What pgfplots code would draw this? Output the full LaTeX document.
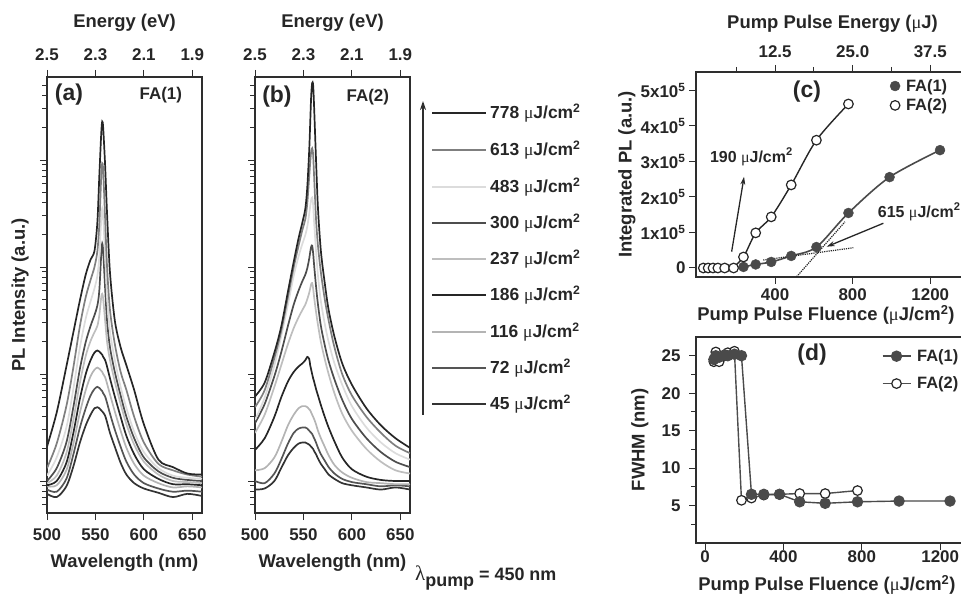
\documentclass[border=0pt]{standalone}
\usepackage{fontspec}
\setmainfont{Liberation Sans}
\newfontfamily\greekf{Liberation Serif}
\usepackage{pgfplots}
\usepackage{pgfplotstable}
\pgfplotsset{compat=1.18}
\usetikzlibrary{arrows.meta}

\newcommand\tickfont{\fontsize{17}{18}\selectfont\bfseries}
\newcommand\labfont{\fontsize{18.5}{20}\selectfont\bfseries}
\newcommand\um{{\greekf\mdseries μ}}

\definecolor{axc}{HTML}{2E2E2E}
\definecolor{txt}{HTML}{262626}
\definecolor{k1}{HTML}{262626}
\definecolor{g613}{HTML}{7F7F7F}
\definecolor{g483}{HTML}{DCDCDC}
\definecolor{g300}{HTML}{4D4D4D}
\definecolor{g237}{HTML}{BEBEBE}
\definecolor{g186}{HTML}{262626}
\definecolor{g116}{HTML}{B4B4B4}
\definecolor{g72}{HTML}{555555}
\definecolor{g45}{HTML}{333333}
\definecolor{fa1}{HTML}{4A4A4A}

% log10 of PL intensity, panel (a) FA(1)
\pgfplotstableread{
wl   a45   a72   a116  a186  a237  a300  a483  a613  a778
500 -0.12 -0.08 -0.05 -0.04 -0.02  0.00  0.05  0.12  0.32
510 -0.15 -0.10 -0.04  0.00  0.05  0.12  0.22  0.35  0.64
520 -0.05  0.02  0.10  0.17  0.26  0.36  0.50  0.70  1.07
527  0.13  0.24  0.34  0.44  0.56  0.68  0.85  1.05  1.38
534  0.36  0.50  0.64  0.77  0.92  1.05  1.25  1.45  1.69
540  0.52  0.68  0.85  1.00  1.17  1.30  1.52  1.72  1.93
545  0.62  0.80  0.98  1.13  1.31  1.45  1.68  1.88  2.07
549  0.68  0.86  1.04  1.20  1.39  1.55  1.80  2.00  2.15
552  0.69  0.88  1.06  1.22  1.45  1.64  1.92  2.15  2.42
554  0.68  0.87  1.05  1.21  1.55  1.78  2.10  2.40  2.85
556  0.66  0.85  1.03  1.19  1.72  2.12  2.45  2.85  3.25
557  0.65  0.84  1.02  1.18  1.75  2.22  2.55  2.97  3.36
558  0.64  0.82  1.00  1.16  1.70  2.15  2.47  2.90  3.30
560  0.61  0.79  0.97  1.13  1.50  1.80  2.10  2.45  2.95
562  0.55  0.73  0.91  1.07  1.30  1.50  1.72  2.00  2.50
565  0.45  0.63  0.81  0.96  1.13  1.25  1.40  1.60  1.95
570  0.32  0.48  0.65  0.79  0.93  1.02  1.13  1.28  1.50
576  0.17  0.32  0.47  0.60  0.72  0.80  0.88  1.02  1.25
582  0.06  0.18  0.31  0.42  0.53  0.60  0.68  0.85  1.08
590 -0.02  0.06  0.16  0.25  0.34  0.40  0.46  0.60  0.85
600 -0.07 -0.02  0.05  0.11  0.18  0.22  0.27  0.36  0.53
615 -0.11 -0.07 -0.02  0.02  0.06  0.09  0.12  0.16  0.20
630 -0.15 -0.10 -0.06 -0.03  0.00  0.03  0.05  0.10  0.13
645 -0.12 -0.09 -0.05 -0.03 -0.01  0.01  0.03  0.06  0.07
660 -0.14 -0.10 -0.06 -0.04 -0.02  0.00  0.02  0.04  0.06
}\tabA

% log10 of PL intensity, panel (b) FA(2)
\pgfplotstableread{
wl   b45   b72   b116  b186  b237  b300  b483  b613  b778
500 -0.08  0.00  0.10  0.29  0.45  0.54  0.57  0.69  0.79
510 -0.07 -0.02  0.12  0.40  0.62  0.72  0.78  0.85  0.92
520  0.00  0.07  0.22  0.60  0.88  0.98  1.08  1.15  1.20
527  0.12  0.20  0.36  0.78  1.08  1.20  1.35  1.40  1.44
534  0.24  0.35  0.52  0.93  1.28  1.45  1.65  1.72  1.77
540  0.31  0.45  0.62  1.02  1.43  1.65  1.92  2.00  2.05
545  0.35  0.49  0.68  1.07  1.53  1.78  2.10  2.20  2.27
549  0.36  0.50  0.70  1.10  1.60  1.87  2.22  2.35  2.42
552  0.36  0.50  0.70  1.13  1.65  1.93  2.30  2.45  2.55
554  0.35  0.49  0.69  1.16  1.70  1.99  2.38  2.60  2.75
556  0.34  0.47  0.67  1.14  1.76  2.08  2.50  2.85  3.10
557  0.33  0.46  0.66  1.08  1.80  2.14  2.57  2.98  3.35
558  0.32  0.45  0.64  1.04  1.84  2.19  2.63  3.08  3.60
559  0.31  0.44  0.62  1.00  1.85  2.20  2.65  3.11  3.72
560  0.30  0.42  0.60  0.96  1.80  2.13  2.58  3.05  3.70
561  0.28  0.40  0.58  0.93  1.72  2.02  2.42  2.85  3.50
563  0.25  0.36  0.53  0.86  1.58  1.82  2.15  2.45  3.00
565  0.21  0.31  0.47  0.80  1.46  1.65  1.92  2.20  2.55
568  0.16  0.25  0.40  0.71  1.30  1.45  1.68  1.95  2.15
572  0.11  0.19  0.32  0.60  1.14  1.27  1.47  1.70  1.85
576  0.06  0.13  0.24  0.50  1.00  1.12  1.30  1.50  1.60
582  0.02  0.07  0.15  0.37  0.82  0.95  1.10  1.25  1.35
590 -0.02  0.02  0.08  0.22  0.63  0.76  0.90  1.00  1.10
600 -0.04 -0.01  0.03  0.11  0.47  0.58  0.70  0.80  0.90
615 -0.06 -0.03 -0.01  0.04  0.30  0.40  0.50  0.60  0.68
630 -0.08 -0.05 -0.02  0.01  0.18  0.27  0.36  0.45  0.52
645 -0.06 -0.04 -0.03  0.00  0.10  0.18  0.26  0.33  0.40
660 -0.08 -0.05 -0.03  0.00  0.07  0.13  0.20  0.26  0.31
}\tabB

\pgfplotsset{
  panel/.style={scale only axis, tick align=outside,
    axis line style={line width=1.1bp, draw=axc},
    every tick/.style={line width=1bp, draw=axc},
    major tick length=7bp, minor tick length=5bp,
    tick label style={font=\tickfont, text=txt},
    label style={font=\labfont, text=txt},
    /pgf/number format/assume math mode=true,
    /pgf/number format/1000 sep={}},
  spec/.style={panel, width=155bp, height=436bp, anchor=south west,
    xmin=500, xmax=660, ymin=-0.299, ymax=3.776,
    xtick={500,550,600,650}, xtick pos=bottom, xticklabel shift=5bp,
    ytick={0,1,2,3}, yticklabels={{},{},{},{}}, ytick pos=left,
    minor ytick={-0.222,-0.155,-0.097,-0.046,
      0.301,0.477,0.602,0.699,0.778,0.845,0.903,0.954,
      1.301,1.477,1.602,1.699,1.778,1.845,1.903,1.954,
      2.301,2.477,2.602,2.699,2.778,2.845,2.903,2.954,
      3.301,3.477,3.602,3.699},
    xlabel={Wavelength (nm)},
    xlabel style={at={(axis description cs:0.5,-0.115)},anchor=center}},
  energy/.style={panel, width=155bp, height=436bp, anchor=south west,
    xmin=500, xmax=660, ymin=0, ymax=1,
    axis x line*=top, axis y line=none, xticklabel shift=6bp,
    xtick={500,550,600,650}, xticklabels={2.5,2.3,2.1,1.9},
    xlabel={Energy (eV)},
    xlabel style={at={(axis description cs:0.5,1.124)},anchor=center}},
  sp/.style={line width=1.7bp, smooth, #1},
}

\begin{document}
\begin{tikzpicture}
\path[use as bounding box] (0bp,0bp) rectangle (961bp,596bp);
\clip (0bp,0bp) rectangle (961bp,596bp);

% ---------------- panel (a)
\begin{axis}[spec, at={(47bp,83bp)}, ylabel={PL Intensity (a.u.)},
  ylabel style={at={(axis description cs:-0.174,0.5)},anchor=center}]
\addplot[sp=g45]  table[x=wl,y=a45]{\tabA};
\addplot[sp=g72]  table[x=wl,y=a72]{\tabA};
\addplot[sp=g116] table[x=wl,y=a116]{\tabA};
\addplot[sp=g186] table[x=wl,y=a186]{\tabA};
\addplot[sp=g237] table[x=wl,y=a237]{\tabA};
\addplot[sp=g300] table[x=wl,y=a300]{\tabA};
\addplot[sp=g483] table[x=wl,y=a483]{\tabA};
\addplot[sp=g613] table[x=wl,y=a613]{\tabA};
\addplot[sp=k1]   table[x=wl,y=a778]{\tabA};
\node[font=\fontsize{23}{24}\selectfont\bfseries, text=txt] at (axis cs:522.7,3.61) {(a)};
\node[font=\fontsize{17}{18}\selectfont\bfseries, text=txt] at (axis cs:617.5,3.61) {FA(1)};
\end{axis}
\begin{axis}[energy, at={(47bp,83bp)}]
\end{axis}

% ---------------- panel (b)
\begin{axis}[spec, at={(255bp,83bp)}]
\addplot[sp=g45]  table[x=wl,y=b45]{\tabB};
\addplot[sp=g72]  table[x=wl,y=b72]{\tabB};
\addplot[sp=g116] table[x=wl,y=b116]{\tabB};
\addplot[sp=g186] table[x=wl,y=b186]{\tabB};
\addplot[sp=g237] table[x=wl,y=b237]{\tabB};
\addplot[sp=g300] table[x=wl,y=b300]{\tabB};
\addplot[sp=g483] table[x=wl,y=b483]{\tabB};
\addplot[sp=g613] table[x=wl,y=b613]{\tabB};
\addplot[sp=k1]   table[x=wl,y=b778]{\tabB};
\node[font=\fontsize{23}{24}\selectfont\bfseries, text=txt] at (axis cs:522.7,3.59) {(b)};
\node[font=\fontsize{17}{18}\selectfont\bfseries, text=txt] at (axis cs:616.5,3.59) {FA(2)};
\end{axis}
\begin{axis}[energy, at={(255bp,83bp)}]
\end{axis}

% ---------------- fluence key for (a) and (b)
\begin{scope}[x=1bp,y=1bp]
\draw[line width=1.4bp, axc, -{Stealth[length=9bp,width=6bp]}] (423,181) -- (423,495);
\foreach \yy/\cc/\lab in {483/k1/778, 446/g613/613, 409/g483/483, 373/g300/300,
   337/g237/237, 301/g186/186, 264/g116/116, 228/g72/72, 192/g45/45}{
  \draw[line width=1.8bp, \cc] (432,\yy) -- (486,\yy);
  \node[anchor=west, inner sep=0pt, text=txt, font=\fontsize{17.5}{18}\selectfont\bfseries]
     at (490,\yy) {\lab\ \um J/cm\textsuperscript{2}};
}
\node[anchor=west, inner sep=0pt, text=txt, font=\fontsize{18}{19}\selectfont\bfseries]
  at (415,18) {{\greekf\mdseries\fontsize{21}{21}\selectfont λ}\raisebox{-6bp}{pump} = 450 nm};
\end{scope}

% ---------------- panel (c)
\begin{axis}[panel, at={(696bp,319bp)}, anchor=south west, width=273.1bp, height=205bp,
  xmin=-7.7, xmax=1400, ymin=-25350, ymax=552100,
  xtick={400,800,1200}, xtick pos=bottom, xticklabel shift=1bp,
  ytick={0,100000,200000,300000,400000,500000},
  yticklabels={0,1x10\textsuperscript{5},2x10\textsuperscript{5},3x10\textsuperscript{5},4x10\textsuperscript{5},5x10\textsuperscript{5}},
  ytick pos=left, scaled y ticks=false,
  xlabel={Pump Pulse Fluence (\um J/cm\textsuperscript{2})},
  xlabel style={at={(axis description cs:0.476,-0.185)},anchor=center},
  ylabel={Integrated PL (a.u.)},
  ylabel style={at={(axis description cs:-0.253,0.5)},anchor=center},
  legend style={draw=none, fill=none, at={(axis description cs:0.71,0.975)}, anchor=north west,
    font=\fontsize{16.5}{17}\selectfont\bfseries, text=txt, inner sep=0pt, row sep=2bp,
    /tikz/every odd column/.append style={column sep=4bp}},
  legend cell align=left]
\addplot[fa1, line width=1.6bp, smooth, forget plot] coordinates {
  (215,0) (237,3000) (300,10000) (380,17000) (483,34000) (613,59000) (778,155000) (990,256000) (1250,332000)};
\addplot[k1, line width=1.4bp, smooth, forget plot] coordinates {
  (178,0) (186,3000) (237,31000) (300,99000) (380,144000) (483,234000) (613,360000) (778,462000)};
\addplot[only marks, mark=*, mark size=5bp, mark options={fill=fa1, draw=fa1}] coordinates {
  (237,3000) (300,10000) (380,17000) (483,34000) (613,59000) (778,155000) (990,256000) (1250,332000)};
\addlegendentry{FA(1)}
\addplot[only marks, mark=*, mark size=4.8bp, mark options={fill=white, draw=k1, line width=1.2bp}] coordinates {
  (30,0) (55,0) (80,0) (105,0) (140,0) (186,0) (237,31000) (300,99000) (380,144000) (483,234000) (613,360000) (778,462000)};
\addlegendentry{FA(2)}
\draw[k1, line width=1.2bp, densely dotted] (axis cs:339,22500) -- (axis cs:803,57000);
\draw[k1, line width=1.2bp, densely dotted] (axis cs:511,-24500) -- (axis cs:760,130000);
\draw[k1, line width=1.3bp, -{Stealth[length=8bp,width=5bp]}] (axis cs:176,46000) -- (axis cs:240,257000);
\draw[k1, line width=1.3bp, -{Stealth[length=8bp,width=5bp]}] (axis cs:958,126000) -- (axis cs:666,60000);
\node[anchor=west, text=txt, inner sep=0pt, font=\fontsize{16}{17}\selectfont\bfseries] at (axis cs:64,313000) {190 \um J/cm\textsuperscript{2}};
\node[anchor=west, text=txt, inner sep=0pt, font=\fontsize{16}{17}\selectfont\bfseries] at (axis cs:929,158000) {615 \um J/cm\textsuperscript{2}};
\node[font=\fontsize{23}{24}\selectfont\bfseries, text=txt] at (axis cs:564,496000) {(c)};
\end{axis}
\begin{axis}[panel, at={(696bp,319bp)}, anchor=south west, width=273.1bp, height=205bp,
  xmin=-7.7, xmax=1400, ymin=0, ymax=1, axis x line*=top, axis y line=none,
  xtick={400,800,1200}, xticklabels={12.5,25.0,37.5}, minor xtick={200,600,1000},
  xticklabel shift=4bp,
  xlabel={Pump Pulse Energy (\um J)},
  xlabel style={at={(axis description cs:0.5,1.234)},anchor=center}]
\end{axis}

% ---------------- panel (d)
\begin{axis}[panel, at={(696bp,53bp)}, anchor=south west, width=283.4bp, height=206bp,
  xmin=-46, xmax=1400, ymin=0, ymax=27.5,
  xtick={0,400,800,1200}, xtick pos=bottom, xticklabel shift=-3bp,
  ytick={5,10,15,20,25}, minor ytick={2.5,7.5,12.5,17.5,22.5}, ytick pos=left,
  yticklabel shift=5bp,
  xlabel={Pump Pulse Fluence (\um J/cm\textsuperscript{2})},
  xlabel style={at={(axis description cs:0.462,-0.204)},anchor=center},
  ylabel={FWHM (nm)},
  ylabel style={at={(axis description cs:-0.198,0.5)},anchor=center},
  legend style={draw=none, fill=none, at={(axis description cs:0.655,0.95)}, anchor=north west,
    font=\fontsize{16.5}{17}\selectfont\bfseries, text=txt, inner sep=0pt, row sep=10bp,
    /tikz/every odd column/.append style={column sep=4bp}},
  legend cell align=left, reverse legend,
  legend image code/.code={\draw[mark repeat=2,mark phase=2,#1] plot coordinates {(0bp,0bp) (14bp,0bp) (28bp,0bp)};}]
\addplot[g300, line width=1.4bp, mark=*, mark size=4.8bp, mark options={fill=white, draw=k1, line width=1.2bp}] coordinates {
  (45,24.2) (55,25.5) (72,24.2) (100,25.0) (116,25.4) (150,25.6) (186,5.7) (237,6.0) (300,6.4) (380,6.5) (483,6.6) (613,6.6) (778,7.0)};
\addlegendentry{FA(2)}
\addplot[fa1, line width=1.4bp, mark=*, mark size=5bp, mark options={fill=fa1, draw=fa1}] coordinates {
  (45,24.5) (55,25.0) (72,24.8) (100,25.1) (116,25.0) (150,25.2) (186,25.0) (237,6.5) (300,6.5) (380,6.5) (483,5.5) (613,5.3) (778,5.5) (990,5.6) (1250,5.6)};
\addlegendentry{FA(1)}
\node[font=\fontsize{23}{24}\selectfont\bfseries, text=txt] at (axis cs:546,25.1) {(d)};
\end{axis}

\end{tikzpicture}
\end{document}
